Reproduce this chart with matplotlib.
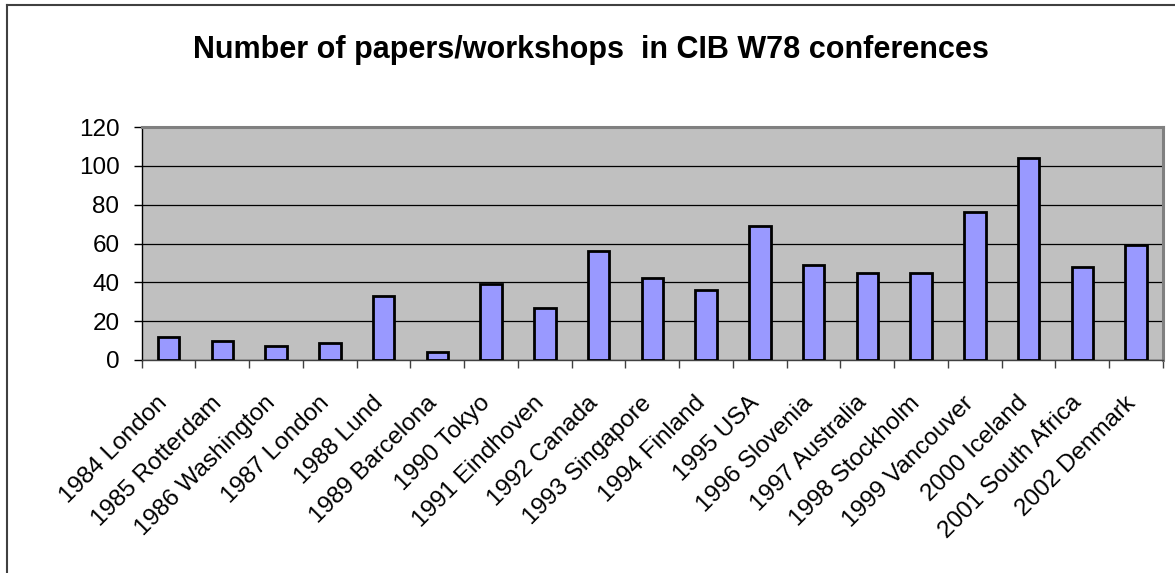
import matplotlib
matplotlib.use("Agg")
import matplotlib.pyplot as plt
from matplotlib.lines import Line2D
from matplotlib.transforms import ScaledTranslation
import numpy as np

plt.rcParams['font.family'] = ['Liberation Sans', 'DejaVu Sans']

categories = ["1984 London", "1985 Rotterdam", "1986 Washington", "1987 London",
              "1988 Lund", "1989 Barcelona", "1990 Tokyo", "1991 Eindhoven",
              "1992 Canada", "1993 Singapore", "1994 Finland", "1995 USA",
              "1996 Slovenia", "1997 Australia", "1998 Stockholm", "1999 Vancouver",
              "2000 Iceland", "2001 South Africa", "2002 Denmark"]
papers = [12, 10, 7, 9, 33, 4, 39, 27, 56, 42, 36, 69, 49, 45, 45, 76, 104, 48, 59]
yticks = [0, 20, 40, 60, 80, 100, 120]
title = "Number of papers/workshops  in CIB W78 conferences"

W, H, DPI = 1175, 573, 100
fig = plt.figure(figsize=(W / DPI, H / DPI), dpi=DPI)
fig.patch.set_facecolor("white")

left, right, top, bottom = 141.7, 1163, 127, 360
ax = fig.add_axes([left / W, 1 - bottom / H, (right - left) / W, (bottom - top) / H])
ax.set_facecolor("#C0C0C0")

x = np.arange(len(categories))
ax.bar(x, papers, width=0.4, color="#9999FF", edgecolor="black", linewidth=2.0, zorder=3)

ax.set_xlim(-0.5, len(categories) - 0.5)
ax.set_ylim(0, 120)
ax.set_yticks(yticks)
ax.yaxis.grid(True, color="black", linewidth=0.9, zorder=1)
ax.set_axisbelow(True)
ax.tick_params(axis="y", direction="out", length=6, width=1, labelsize=17.5, pad=10, colors="black")
ax.set_xticks(np.arange(-0.5, len(categories), 1.0))
ax.set_xticklabels([])
ax.tick_params(axis="x", direction="out", length=6, width=1, color="#404040")

for side in ["top", "right"]:
    ax.spines[side].set_color("#808080")
    ax.spines[side].set_linewidth(2.2)
ax.spines["left"].set_color("black")
ax.spines["left"].set_linewidth(1)
ax.spines["bottom"].set_color("#404040")
ax.spines["bottom"].set_linewidth(1)

offset = ScaledTranslation(-12 / DPI, -32 / DPI, fig.dpi_scale_trans)
trans = ax.get_xaxis_transform() + offset
for xi, lab in zip(x, categories):
    ax.text(xi, 0, lab, transform=trans, rotation=45, rotation_mode="anchor",
            ha="right", va="top", fontsize=17.5, color="black")

fig.text(591 / W, 1 - 58 / H, title, ha="center", va="baseline",
         fontsize=22, fontweight="bold", color="black")

# outer chart border (top and left visible)
fig.add_artist(Line2D([7 / W, 7 / W], [0, 1 - 5 / H], transform=fig.transFigure,
                      color="#404040", linewidth=1.5))
fig.add_artist(Line2D([7 / W, 1], [1 - 5 / H, 1 - 5 / H], transform=fig.transFigure,
                      color="#404040", linewidth=1.5))

fig.savefig("out.png", dpi=DPI)
